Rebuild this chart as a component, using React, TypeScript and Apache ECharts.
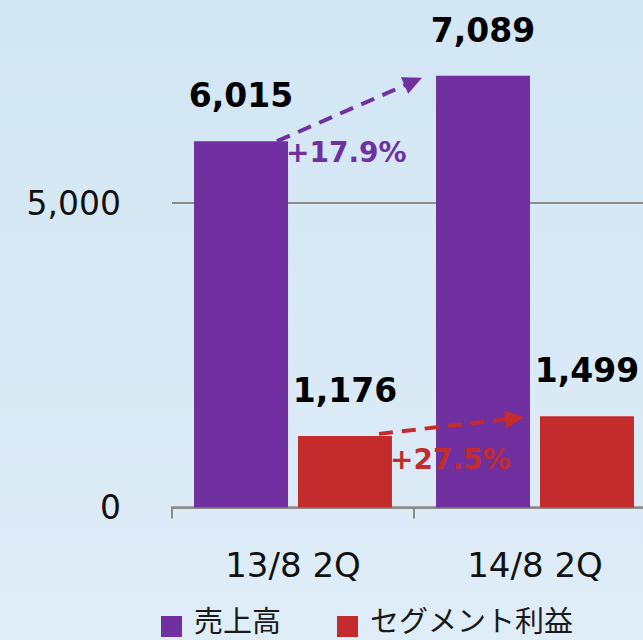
import React, { useEffect, useRef } from "react";
import * as echarts from "echarts";

const categories = ["13/8 2Q", "14/8 2Q"];
const seriesNames = ["売上高", "セグメント利益"];
const salesValues = [6015, 7089];
const profitValues = [1176, 1499];
const growthLabels = ["+17.9%", "+27.5%"];
const yMin = 0;
const yMax = 10000;
const yInterval = 5000;

const PURPLE = "#7030A0";
const RED = "#C42B2D";
const AXIS_GRAY = "#8c8c8c";
const NUM_FONT = "DejaVu Sans";
const JP_FONT = "Noto Sans CJK JP";
// legend square drawn in the lower part of its icon box so the text sits a little above it
const LEGEND_ICON = "path://M0,0 M0,16 L21,16 L21,37 L0,37 Z";

function fmt(v: number) {
  return v.toLocaleString("en-US");
}

export default function App() {
  const ref = useRef<HTMLDivElement>(null);
  useEffect(() => {
    if (!ref.current) return;
    const chart = echarts.init(ref.current, null, { renderer: "svg" });
    const labelCfg = {
      show: true,
      position: "top",
      distance: 29,
      fontFamily: NUM_FONT,
      fontWeight: "bold",
      fontSize: 33,
      color: "#000",
      formatter: (p: any) => fmt(p.value),
    };
    chart.setOption({
      animation: false,
      grid: { left: 172, width: 484, top: -101.5, height: 609, containLabel: false, outerBoundsMode: "none" },
      legend: {
        data: seriesNames,
        left: 156,
        top: 595,
        itemWidth: 21,
        itemHeight: 37,
        itemGap: 56,
        icon: LEGEND_ICON,
        textStyle: { fontFamily: JP_FONT, fontSize: 29, color: "#1a1a1a", padding: [0, 0, 0, 7] },
      },
      xAxis: {
        type: "category",
        data: categories,
        boundaryGap: true,
        axisLine: { show: true, lineStyle: { color: AXIS_GRAY, width: 2.5 } },
        axisTick: { show: true, length: 11, lineStyle: { color: AXIS_GRAY, width: 2 } },
        axisLabel: { margin: 40, fontFamily: NUM_FONT, fontSize: 34, color: "#111" },
      },
      yAxis: {
        type: "value",
        min: yMin,
        max: yMax,
        interval: yInterval,
        axisLine: { show: false },
        axisTick: { show: false },
        axisLabel: { margin: 51, showMaxLabel: false, fontFamily: NUM_FONT, fontSize: 33, color: "#111", formatter: (v: number) => fmt(v) },
        splitLine: { show: true, lineStyle: { color: AXIS_GRAY, width: 2 } },
      },
      series: [
        { name: seriesNames[0], type: "bar", data: salesValues, barWidth: 94, barGap: "10.6%", itemStyle: { color: PURPLE }, label: labelCfg, z: 2 },
        { name: seriesNames[1], type: "bar", data: profitValues, barWidth: 94, barGap: "10.6%", itemStyle: { color: RED }, label: labelCfg, z: 2 },
      ],
    });

    const rectOf = (si: number, i: number) => {
      const l = (chart as any).getModel().getSeriesByIndex(si).getData().getItemLayout(i);
      return {
        left: Math.min(l.x, l.x + l.width),
        right: Math.max(l.x, l.x + l.width),
        top: Math.min(l.y, l.y + l.height),
      };
    };

    const arrow = (sx: number, sy: number, tx: number, ty: number, color: string) => {
      const dx = tx - sx, dy = ty - sy;
      const L = Math.hypot(dx, dy);
      const ux = dx / L, uy = dy / L;
      const hl = 19, hw = 9;
      const bx = tx - ux * hl, by = ty - uy * hl;
      return [
        { type: "line", z: 100, shape: { x1: sx, y1: sy, x2: bx + ux * 2, y2: by + uy * 2 }, style: { stroke: color, lineWidth: 4, lineDash: [14, 9] } },
        { type: "polygon", z: 100, shape: { points: [[tx, ty], [bx - uy * hw, by + ux * hw], [bx + uy * hw, by - ux * hw]] }, style: { fill: color } },
      ];
    };

    const s1 = rectOf(0, 0), s2 = rectOf(0, 1);
    const p1 = rectOf(1, 0), p2 = rectOf(1, 1);
    const elements: any[] = [
      ...arrow(s1.right - 11, s1.top, s2.left - 14, s2.top + 2, PURPLE),
      ...arrow(p1.right - 13, p1.top - 2, p2.left - 16, p2.top + 1, RED),
      {
        type: "text", z: 101, x: s1.right - 2, y: s1.top + 11,
        style: { text: growthLabels[0], fill: PURPLE, font: `bold 28px "${NUM_FONT}"`, textAlign: "left", textVerticalAlign: "middle" },
      },
      {
        type: "text", z: 101, x: p1.right - 2, y: p1.top + 24,
        style: { text: growthLabels[1], fill: RED, font: `bold 28px "${NUM_FONT}"`, textAlign: "left", textVerticalAlign: "middle" },
      },
    ];
    chart.setOption({ graphic: { elements } });

    return () => chart.dispose();
  }, []);
  return (
    <div
      ref={ref}
      style={{
        position: "fixed",
        left: 0,
        top: 0,
        width: 643,
        height: 640,
        background: "linear-gradient(to bottom, #d3e6f4 0%, #d8e9f5 50%, #dfedf8 100%)",
      }}
    />
  );
}
